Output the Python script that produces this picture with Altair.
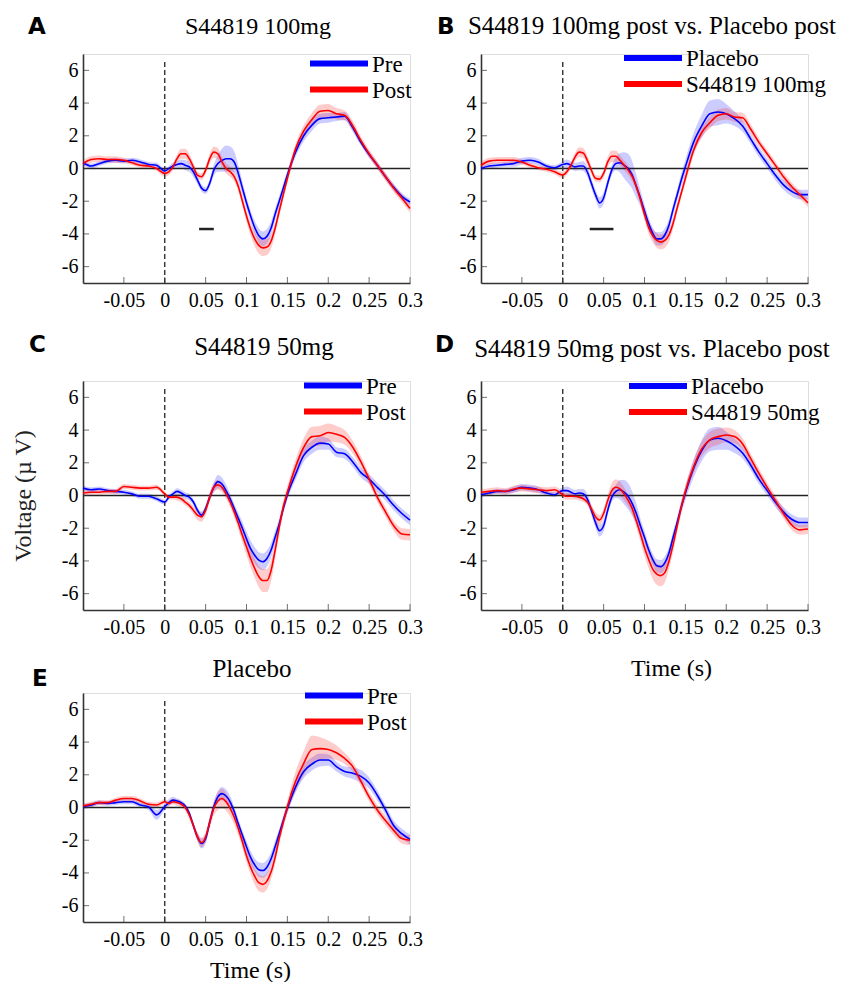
import altair as alt
import pandas as pd

# ---------------- data ----------------
TIME = [-0.1, -0.09, -0.08, -0.07, -0.06, -0.05, -0.04, -0.03, -0.02, -0.01,
        0.0, 0.005, 0.01, 0.015, 0.02, 0.025, 0.03, 0.035, 0.04, 0.045, 0.05,
        0.055, 0.06, 0.065, 0.07, 0.075, 0.08, 0.085, 0.09, 0.095, 0.1,
        0.105, 0.11, 0.115, 0.12, 0.125, 0.13, 0.135, 0.14, 0.145, 0.15,
        0.16, 0.17, 0.18, 0.19, 0.2, 0.21, 0.22, 0.23, 0.24, 0.25, 0.26,
        0.27, 0.28, 0.29, 0.3]

# Panel A: S44819 100mg, pre vs post
A_PRE = [0.35, 0.15, 0.3, 0.45, 0.5, 0.45, 0.5, 0.4, 0.25, 0.2,
         -0.15, 0.0, 0.15, 0.25, 0.3, 0.2, 0.1, -0.2, -0.7, -1.2, -1.35,
         -0.9, -0.1, 0.3, 0.5, 0.6, 0.6, 0.4, -0.3, -1.2, -2.1,
         -2.9, -3.6, -4.1, -4.3, -4.15, -3.65, -2.8, -2.0, -1.2, -0.4,
         1.0, 2.0, 2.65, 3.05, 3.1, 3.15, 3.2, 2.5, 1.6, 0.85, 0.2, -0.5, -1.15, -1.7, -2.05]
A_PRE_SEM = [0.15, 0.15, 0.15, 0.15, 0.15, 0.15, 0.15, 0.15, 0.15, 0.15,
             0.15, 0.15, 0.2, 0.2, 0.25, 0.3, 0.3, 0.3, 0.25, 0.2, 0.2,
             0.25, 0.35, 0.5, 0.7, 0.8, 0.75, 0.65, 0.5, 0.4, 0.35,
             0.35, 0.4, 0.45, 0.45, 0.45, 0.4, 0.35, 0.3, 0.3, 0.3,
             0.3, 0.35, 0.35, 0.3, 0.3, 0.25, 0.25, 0.25, 0.2, 0.2, 0.2, 0.2, 0.2, 0.2, 0.2]
A_POST = [0.3, 0.55, 0.6, 0.55, 0.55, 0.5, 0.35, 0.2, 0.15, 0.0,
          -0.3, -0.2, 0.1, 0.6, 0.9, 0.9, 0.6, 0.1, -0.4, -0.5, -0.1,
          0.6, 1.0, 0.9, 0.4, 0.0, -0.2, -0.5, -1.1, -2.0, -2.9,
          -3.7, -4.3, -4.7, -4.85, -4.8, -4.45, -3.65, -2.6, -1.6, -0.6,
          1.2, 2.3, 3.0, 3.5, 3.55, 3.35, 3.25, 2.6, 1.7, 0.9, 0.2, -0.5, -1.2, -1.8, -2.45]
A_POST_SEM = [0.2, 0.2, 0.2, 0.2, 0.2, 0.15, 0.15, 0.15, 0.15, 0.15,
              0.2, 0.2, 0.2, 0.25, 0.3, 0.3, 0.3, 0.25, 0.2, 0.2, 0.25,
              0.3, 0.35, 0.35, 0.3, 0.3, 0.3, 0.3, 0.3, 0.3, 0.35,
              0.4, 0.45, 0.5, 0.5, 0.5, 0.45, 0.4, 0.35, 0.3, 0.3,
              0.3, 0.35, 0.4, 0.4, 0.4, 0.35, 0.3, 0.3, 0.25, 0.25, 0.25, 0.25, 0.25, 0.25, 0.25]

# Panel B: S44819 100mg post vs placebo post
B_PLAC = [0.0, 0.15, 0.2, 0.25, 0.3, 0.45, 0.5, 0.4, 0.15, 0.05,
          0.25, 0.3, 0.2, 0.1, 0.15, 0.15, -0.2, -0.9, -1.6, -2.1, -1.8,
          -0.9, -0.1, 0.3, 0.35, 0.2, 0.0, -0.4, -1.1, -1.8, -2.6,
          -3.35, -3.95, -4.3, -4.3, -4.05, -3.45, -2.5, -1.6, -0.7, 0.1,
          1.6, 2.6, 3.35, 3.45, 3.35, 3.05, 2.6, 1.8, 1.0, 0.3, -0.4, -1.0, -1.4, -1.6, -1.6]
B_PLAC_SEM = [0.15, 0.15, 0.15, 0.15, 0.2, 0.2, 0.2, 0.2, 0.15, 0.15,
              0.2, 0.25, 0.25, 0.25, 0.25, 0.3, 0.3, 0.3, 0.3, 0.35, 0.35,
              0.3, 0.3, 0.4, 0.6, 0.8, 0.9, 0.85, 0.7, 0.5, 0.4,
              0.35, 0.35, 0.4, 0.4, 0.4, 0.35, 0.35, 0.35, 0.4, 0.45,
              0.55, 0.7, 0.8, 0.8, 0.6, 0.45, 0.35, 0.3, 0.3, 0.3, 0.3, 0.3, 0.3, 0.3, 0.3]
B_100 = [0.2, 0.45, 0.5, 0.5, 0.5, 0.4, 0.2, 0.05, -0.05, -0.2,
         -0.4, -0.2, 0.2, 0.7, 1.0, 0.95, 0.5, -0.1, -0.6, -0.65, -0.3,
         0.4, 0.75, 0.75, 0.5, 0.2, -0.1, -0.5, -1.1, -1.9, -2.8,
         -3.6, -4.1, -4.4, -4.5, -4.4, -4.05, -3.35, -2.4, -1.5, -0.6,
         1.1, 2.2, 2.8, 3.25, 3.35, 3.15, 3.1, 2.4, 1.6, 0.9, 0.2, -0.5, -1.1, -1.6, -2.1]
B_100_SEM = [0.2, 0.2, 0.2, 0.2, 0.2, 0.15, 0.15, 0.15, 0.15, 0.15,
             0.2, 0.2, 0.2, 0.25, 0.3, 0.3, 0.3, 0.25, 0.2, 0.2, 0.25,
             0.3, 0.35, 0.35, 0.3, 0.3, 0.3, 0.3, 0.3, 0.3, 0.35,
             0.4, 0.4, 0.45, 0.45, 0.45, 0.4, 0.35, 0.3, 0.3, 0.3,
             0.3, 0.3, 0.35, 0.35, 0.35, 0.3, 0.3, 0.3, 0.25, 0.25, 0.25, 0.25, 0.25, 0.25, 0.25]

# Panel C: S44819 50mg, pre vs post
C_PRE = [0.45, 0.35, 0.4, 0.3, 0.25, 0.2, 0.1, -0.05, -0.05, -0.2,
         -0.4, -0.1, 0.1, 0.25, 0.15, 0.0, -0.1, -0.4, -0.9, -1.2, -0.8,
         -0.1, 0.5, 0.85, 0.7, 0.3, -0.2, -0.8, -1.4, -2.0, -2.65,
         -3.25, -3.65, -3.95, -4.05, -3.85, -3.35, -2.55, -1.75, -0.8, 0.05,
         1.3, 2.45, 2.95, 3.2, 3.15, 2.65, 2.55, 2.05, 1.4, 1.0, 0.5, 0.0, -0.6, -1.1, -1.5]
C_PRE_SEM = [0.15, 0.15, 0.15, 0.15, 0.15, 0.15, 0.15, 0.15, 0.15, 0.15,
             0.15, 0.15, 0.15, 0.2, 0.2, 0.2, 0.2, 0.2, 0.2, 0.2, 0.2,
             0.25, 0.3, 0.4, 0.4, 0.35, 0.3, 0.3, 0.35, 0.4, 0.45,
             0.5, 0.5, 0.5, 0.5, 0.5, 0.45, 0.4, 0.35, 0.3, 0.3,
             0.35, 0.4, 0.4, 0.4, 0.35, 0.3, 0.3, 0.3, 0.3, 0.3, 0.3, 0.3, 0.3, 0.3, 0.3]
C_POST = [0.15, 0.2, 0.2, 0.25, 0.25, 0.55, 0.5, 0.45, 0.45, 0.5,
          0.1, -0.1, -0.1, -0.1, -0.2, -0.4, -0.6, -0.9, -1.2, -1.3, -0.9,
          -0.1, 0.5, 0.65, 0.5, 0.1, -0.4, -1.0, -1.7, -2.45, -3.15,
          -3.85, -4.45, -4.95, -5.2, -5.2, -4.6, -3.35, -1.95, -0.7, 0.2,
          1.75, 2.95, 3.6, 3.65, 3.85, 3.75, 3.55, 2.95, 2.05, 1.0, -0.1, -1.0, -1.85, -2.35, -2.4]
C_POST_SEM = [0.15, 0.15, 0.15, 0.15, 0.15, 0.15, 0.15, 0.15, 0.15, 0.15,
              0.15, 0.15, 0.15, 0.2, 0.2, 0.2, 0.2, 0.25, 0.3, 0.3, 0.3,
              0.3, 0.3, 0.3, 0.3, 0.3, 0.3, 0.35, 0.4, 0.45, 0.5,
              0.55, 0.6, 0.65, 0.7, 0.7, 0.65, 0.55, 0.45, 0.4, 0.4,
              0.45, 0.55, 0.6, 0.6, 0.55, 0.5, 0.45, 0.4, 0.35, 0.3, 0.3, 0.3, 0.3, 0.35, 0.35]

# Panel D: S44819 50mg post vs placebo post
D_PLAC = [0.05, 0.15, 0.25, 0.25, 0.35, 0.5, 0.45, 0.35, 0.15, 0.05,
          0.3, 0.3, 0.2, 0.1, 0.15, 0.1, -0.2, -0.9, -1.65, -2.15, -1.85,
          -0.9, -0.1, 0.25, 0.35, 0.2, -0.05, -0.5, -1.1, -1.85, -2.55,
          -3.3, -3.9, -4.3, -4.35, -4.1, -3.5, -2.55, -1.65, -0.7, 0.15,
          1.65, 2.75, 3.4, 3.5, 3.35, 3.05, 2.6, 1.85, 1.0, 0.3, -0.4, -1.0, -1.45, -1.65, -1.65]
D_PLAC_SEM = [0.15, 0.15, 0.15, 0.15, 0.2, 0.2, 0.2, 0.2, 0.15, 0.15,
              0.2, 0.25, 0.25, 0.25, 0.25, 0.3, 0.3, 0.3, 0.3, 0.35, 0.35,
              0.3, 0.3, 0.4, 0.6, 0.75, 0.8, 0.75, 0.6, 0.45, 0.4,
              0.35, 0.35, 0.4, 0.4, 0.4, 0.35, 0.35, 0.35, 0.4, 0.45,
              0.55, 0.65, 0.7, 0.7, 0.55, 0.45, 0.35, 0.3, 0.3, 0.3, 0.3, 0.3, 0.3, 0.3, 0.3]
D_50 = [0.2, 0.25, 0.3, 0.25, 0.4, 0.45, 0.4, 0.35, 0.3, 0.35,
        0.05, -0.05, -0.05, -0.05, -0.1, -0.2, -0.4, -0.8, -1.3, -1.5, -1.1,
        -0.3, 0.3, 0.5, 0.4, 0.1, -0.3, -0.8, -1.55, -2.35, -3.2,
        -3.9, -4.5, -4.8, -4.9, -4.7, -4.0, -3.0, -1.85, -0.7, 0.25,
        1.75, 2.85, 3.4, 3.6, 3.7, 3.6, 3.15, 2.25, 1.35, 0.5, -0.3, -1.1, -1.8, -2.1, -2.05]
D_50_SEM = [0.2, 0.2, 0.2, 0.2, 0.2, 0.2, 0.2, 0.2, 0.2, 0.2,
            0.2, 0.2, 0.2, 0.2, 0.2, 0.2, 0.2, 0.25, 0.3, 0.3, 0.3,
            0.35, 0.45, 0.5, 0.45, 0.4, 0.35, 0.35, 0.4, 0.45, 0.5,
            0.55, 0.6, 0.65, 0.65, 0.6, 0.5, 0.45, 0.4, 0.35, 0.35,
            0.4, 0.45, 0.5, 0.5, 0.45, 0.4, 0.35, 0.3, 0.3, 0.3, 0.3, 0.3, 0.3, 0.3, 0.3]

# Panel E: placebo, pre vs post
E_PRE = [0.05, 0.15, 0.3, 0.25, 0.3, 0.35, 0.35, 0.15, 0.05, -0.45,
         0.05, 0.3, 0.45, 0.4, 0.3, 0.1, -0.35, -1.1, -1.8, -2.2, -1.9,
         -0.9, 0.05, 0.65, 0.85, 0.7, 0.35, -0.25, -1.0, -1.7, -2.4,
         -3.05, -3.5, -3.8, -3.85, -3.65, -3.15, -2.4, -1.6, -0.8, -0.05,
         1.25, 2.2, 2.65, 2.9, 2.9, 2.5, 2.2, 2.1, 1.9, 1.5, 0.75, -0.15, -1.1, -1.6, -1.95]
E_PRE_SEM = [0.15, 0.15, 0.15, 0.15, 0.15, 0.15, 0.15, 0.15, 0.2, 0.3,
             0.2, 0.2, 0.2, 0.15, 0.15, 0.15, 0.2, 0.2, 0.25, 0.3, 0.3,
             0.3, 0.3, 0.35, 0.4, 0.4, 0.35, 0.3, 0.3, 0.3, 0.35,
             0.4, 0.4, 0.45, 0.45, 0.45, 0.4, 0.35, 0.3, 0.3, 0.3,
             0.35, 0.4, 0.4, 0.4, 0.35, 0.3, 0.3, 0.35, 0.4, 0.35, 0.3, 0.3, 0.3, 0.3, 0.3]
E_POST = [0.1, 0.2, 0.3, 0.3, 0.45, 0.55, 0.55, 0.4, 0.2, 0.15,
          0.35, 0.25, 0.35, 0.3, 0.2, 0.0, -0.45, -1.1, -1.8, -2.15, -1.8,
          -0.9, -0.05, 0.4, 0.55, 0.35, -0.05, -0.6, -1.3, -2.1, -2.95,
          -3.65, -4.2, -4.6, -4.7, -4.5, -3.95, -3.05, -1.9, -0.9, 0.05,
          1.6, 2.7, 3.55, 3.6, 3.55, 3.35, 3.0, 2.5, 1.6, 0.65, -0.15, -0.8, -1.4, -1.9, -2.0]
E_POST_SEM = [0.15, 0.15, 0.15, 0.15, 0.15, 0.15, 0.15, 0.15, 0.15, 0.15,
              0.15, 0.15, 0.15, 0.2, 0.2, 0.2, 0.25, 0.25, 0.3, 0.3, 0.3,
              0.35, 0.45, 0.55, 0.6, 0.55, 0.5, 0.45, 0.4, 0.4, 0.4,
              0.45, 0.5, 0.5, 0.5, 0.5, 0.45, 0.4, 0.35, 0.35, 0.4,
              0.6, 0.75, 0.85, 0.7, 0.55, 0.45, 0.35, 0.3, 0.3, 0.3, 0.3, 0.3, 0.3, 0.3, 0.3]

# significance bars (start, end, level)
A_SIG = [0.042, 0.060, -3.7]
B_SIG = [0.033, 0.062, -3.7]

X_TICKS = [-0.05, 0, 0.05, 0.1, 0.15, 0.2, 0.25, 0.3]
Y_TICKS = [-6, -4, -2, 0, 2, 4, 6]
X_DOMAIN = [-0.1, 0.3]
Y_DOMAIN = [-7, 7]
ONSET = [0.0, -7.0, 6.6]
COLORS = ["#0000ff", "#ff0000"]

# ---------------- styling ----------------
SERIF = "Liberation Serif"
AXIS_COLOR = "#333333"
W, H = 327, 229
LBL = "replace(format(datum.value, '~g'), '\u2212', '-')"
KEY_LEN = 58
KEY_FONT = 23
KEY_STEP = 26


def panel(letter, title, names, series, p, sig=None, xtitle=None, ytitle=None):
    rows = []
    for name, (m, s) in zip(names, series):
        for t, v, e in zip(TIME, m, s):
            rows.append({"t": t, "v": v, "lo": v - e, "hi": v + e, "series": name})
    df = pd.DataFrame(rows)

    x_axis = alt.Axis(values=X_TICKS, labelExpr=LBL, title=xtitle, grid=False,
                      ticks=False, labelPadding=7, labelFont=SERIF, labelFontSize=20,
                      labelColor="black", labelFlush=False, labelOverlap=False,
                      domainColor=AXIS_COLOR, domainWidth=1.6,
                      titleFont=SERIF, titleFontSize=24, titleFontWeight="normal",
                      titleColor="black", titlePadding=p.get("xpad", 10),
                      titleX=p.get("xtx", 163))
    y_axis = alt.Axis(values=Y_TICKS, labelExpr=LBL, title=ytitle, grid=False,
                      ticks=False, labelPadding=5, labelFont=SERIF, labelFontSize=20,
                      labelColor="black", labelFlush=False, labelOverlap=False,
                      domainColor=AXIS_COLOR, domainWidth=1.6,
                      titleFont=SERIF, titleFontSize=24, titleFontWeight="normal",
                      titleColor="#222", titlePadding=26)
    xs = alt.Scale(domain=X_DOMAIN, nice=False, zero=False)
    ys = alt.Scale(domain=Y_DOMAIN, nice=False, zero=False)
    x = alt.X("t:Q", scale=xs, axis=x_axis)
    y = alt.Y("v:Q", scale=ys, axis=y_axis)
    cscale = alt.Scale(domain=names, range=COLORS)

    bands = alt.Chart(df).mark_area(interpolate="monotone", fillOpacity=0.2).encode(
        x=x,
        y=alt.Y("lo:Q", scale=ys, axis=y_axis),
        y2="hi:Q",
        color=alt.Color("series:N", scale=cscale, legend=None),
    )
    zero = alt.Chart(pd.DataFrame({"v": [0.0]})).mark_rule(
        color="#222", strokeWidth=1.4).encode(y=y)
    onset = alt.Chart(pd.DataFrame({"t": [ONSET[0]], "v": [ONSET[1]], "v2": [ONSET[2]]})).mark_rule(
        color="#333", strokeWidth=1.4, strokeDash=[5, 3]).encode(x=x, y=y, y2="v2:Q")
    # small inward tick marks, as in the original
    xt = alt.Chart(pd.DataFrame({"t": X_TICKS, "v": [Y_DOMAIN[0] for _ in X_TICKS]})).mark_tick(
        orient="vertical", size=6, thickness=1, color=AXIS_COLOR, yOffset=-3).encode(x=x, y=y)
    yt = alt.Chart(pd.DataFrame({"t": [X_DOMAIN[0] for _ in Y_TICKS], "v": Y_TICKS})).mark_tick(
        orient="horizontal", size=6, thickness=1, color=AXIS_COLOR, xOffset=3).encode(x=x, y=y)
    lines = alt.Chart(df).mark_line(interpolate="monotone", strokeWidth=1.6).encode(
        x=x, y=y, color=alt.Color("series:N", scale=cscale, legend=None))
    layers = [bands, zero, onset, xt, yt, lines]
    if sig is not None:
        layers.append(alt.Chart(pd.DataFrame({"t": [sig[0]], "t2": [sig[1]], "v": [sig[2]]}))
                      .mark_rule(color="#222", strokeWidth=2.5)
                      .encode(x=x, x2="t2:Q", y=y))
    # key (legend): a thick line and a label for each series
    for i, (name, col) in enumerate(zip(names, COLORS)):
        cy = p["ly"] + i * KEY_STEP
        key = alt.Chart(pd.DataFrame({"s": [name]}))
        layers.append(key.mark_rule(color=col, strokeWidth=6, strokeCap="butt").encode(
            x=alt.value(p["lx"]), x2=alt.value(p["lx"] + KEY_LEN), y=alt.value(cy)))
        layers.append(key.mark_text(font=SERIF, fontSize=KEY_FONT, align="left", baseline="middle",
                                    color="black", dy=1).encode(
            x=alt.value(p["lx"] + KEY_LEN + 4), y=alt.value(cy), text="s:N"))
    layers.append(alt.Chart(pd.DataFrame({"s": [letter]})).mark_text(
        font="DejaVu Sans", fontWeight="bold", fontSize=23, align="left",
        baseline="alphabetic", color="black").encode(
        x=alt.value(p["px"]), y=alt.value(p["py"]), text="s:N"))
    layers.append(alt.Chart(pd.DataFrame({"s": [title]})).mark_text(
        font=SERIF, fontSize=p.get("tfs", 25), align="center", baseline="alphabetic",
        color="black").encode(x=alt.value(p["tx"]), y=alt.value(p["ty"]), text="s:N"))
    return alt.layer(*layers).properties(width=W, height=H)


A = panel("A", "S44819 100mg", ["Pre", "Post"],
          [(A_PRE, A_PRE_SEM), (A_POST, A_POST_SEM)],
          {"lx": 227, "ly": 9.5, "px": -55, "py": -20, "tx": 175, "ty": -20,
           "tfs": 24}, sig=A_SIG)
B = panel("B", "S44819 100mg post vs. Placebo post", ["Placebo", "S44819 100mg"],
          [(B_PLAC, B_PLAC_SEM), (B_100, B_100_SEM)],
          {"lx": 143, "ly": 4, "px": -44, "py": -20, "tx": 171, "ty": -20},
          sig=B_SIG)
C = panel("C", "S44819 50mg", ["Pre", "Post"],
          [(C_PRE, C_PRE_SEM), (C_POST, C_POST_SEM)],
          {"lx": 221, "ly": 4.5, "px": -54, "py": -29, "tx": 181, "ty": -26},
          ytitle="Voltage (\u00b5 V)")
D = panel("D", "S44819 50mg post vs. Placebo post", ["Placebo", "S44819 50mg"],
          [(D_PLAC, D_PLAC_SEM), (D_50, D_50_SEM)],
          {"lx": 148, "ly": 5, "px": -46, "py": -29, "tx": 171, "ty": -24,
           "xpad": 19, "xtx": 190},
          xtitle="Time (s)")
E = panel("E", "Placebo", ["Pre", "Post"],
          [(E_PRE, E_PRE_SEM), (E_POST, E_POST_SEM)],
          {"lx": 222, "ly": 2.5, "px": -51, "py": -7, "tx": 169, "ty": -16,
           "xpad": 9, "xtx": 167},
          xtitle="Time (s)")

IND = dict(color="independent")
col1 = alt.vconcat(alt.vconcat(A, C, spacing=22).resolve_scale(**IND), E, spacing=18).resolve_scale(**IND)
col2 = alt.vconcat(B, D, spacing=22).resolve_scale(**IND)
chart = (alt.hconcat(col1, col2, spacing=11).resolve_scale(**IND)
         .properties(padding={"left": 10, "top": 13, "right": 5, "bottom": 5})
         .configure_view(stroke=None)
         .configure(background="white"))

chart.save("out.html", embed_options={"renderer": "svg", "actions": False})
